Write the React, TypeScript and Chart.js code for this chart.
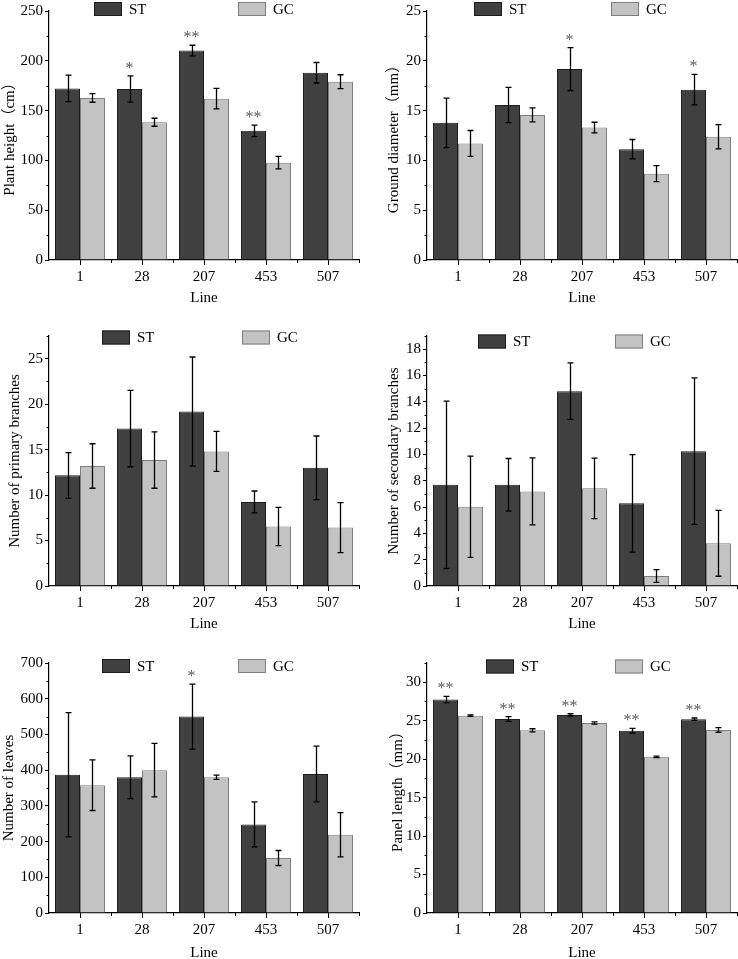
import React, { useEffect, useRef } from "react";
import { Chart, registerables } from "chart.js";

Chart.register(...registerables);

// ---------- data ----------
const lines = ["1", "28", "207", "453", "507"];
const seriesNames = ["ST", "GC"];

const heightST = [172.3, 171.7, 210.3, 129.7, 188.0];
const heightSTErr = [13.3, 13.2, 5.3, 5.8, 10.3];
const heightGC = [162.7, 138.3, 162.0, 97.7, 179.0];
const heightGCErr = [4.3, 4.0, 10.3, 6.3, 7.0];
const heightSig = ["", "*", "**", "**", ""];

const diameterST = [13.77, 15.57, 19.17, 11.13, 17.1];
const diameterSTErr = [2.48, 1.77, 2.15, 0.97, 1.53];
const diameterGC = [11.7, 14.57, 13.3, 8.67, 12.37];
const diameterGCErr = [1.3, 0.7, 0.53, 0.8, 1.22];
const diameterSig = ["", "", "*", "", "*"];

const primaryST = [12.17, 17.32, 19.19, 9.25, 13.0];
const primarySTErr = [2.5, 4.2, 6.0, 1.2, 3.5];
const primaryGC = [13.2, 13.85, 14.8, 6.54, 6.43];
const primaryGCErr = [2.45, 3.1, 2.2, 2.1, 2.75];
const primarySig = ["", "", "", "", ""];

const secondaryST = [7.69, 7.69, 14.81, 6.28, 10.25];
const secondarySTErr = [6.36, 2.0, 2.15, 3.7, 5.57];
const secondaryGC = [6.02, 7.19, 7.42, 0.76, 3.24];
const secondaryGCErr = [3.85, 2.55, 2.3, 0.48, 2.5];
const secondarySig = ["", "", "", "", ""];

const leavesST = [387, 380, 550, 248, 389];
const leavesSTErr = [174, 60, 91, 63, 78];
const leavesGC = [358, 400, 380, 154, 219];
const leavesGCErr = [71, 75, 6, 21, 62];
const leavesSig = ["", "", "*", "", ""];

const panicleST = [27.75, 25.22, 25.75, 23.7, 25.2];
const panicleSTErr = [0.4, 0.3, 0.15, 0.3, 0.15];
const panicleGC = [25.65, 23.75, 24.7, 20.3, 23.8];
const panicleGCErr = [0.1, 0.2, 0.15, 0.1, 0.3];
const panicleSig = ["**", "**", "**", "**", "**"];

// ---------- panel layout ----------
const FONT = '"Liberation Serif", "Times New Roman", serif';
const TITLE_FONT = '"Liberation Serif", "Noto Sans CJK SC", serif';

type Panel = {
  left: number; top: number; width: number; height: number;
  padTop: number; padRight: number; axisX: number; axisY: number;
  title: string; titlePad: number; max: number; step: number;
  st: number[]; stErr: number[]; gc: number[]; gcErr: number[]; sig: string[];
  legendX: number[]; legendDy: number;
};

const panels: Panel[] = [
  { left: 0, top: 0, width: 369, height: 309, padTop: 10, padRight: 10, axisX: 49, axisY: 260,
    title: "Plant height（cm）", titlePad: 1, max: 250, step: 50,
    st: heightST, stErr: heightSTErr, gc: heightGC, gcErr: heightGCErr, sig: heightSig,
    legendX: [45, 189], legendDy: -2 },
  { left: 369, top: 0, width: 369, height: 309, padTop: 10, padRight: 1, axisX: 427, axisY: 260,
    title: "Ground diameter（mm）", titlePad: 16, max: 25, step: 5,
    st: diameterST, stErr: diameterSTErr, gc: diameterGC, gcErr: diameterGCErr, sig: diameterSig,
    legendX: [47, 184], legendDy: -2 },
  { left: 0, top: 310, width: 369, height: 325, padTop: 26, padRight: 10, axisX: 49, axisY: 586,
    title: "Number of primary branches", titlePad: 6, max: 27.5, step: 5,
    st: primaryST, stErr: primarySTErr, gc: primaryGC, gcErr: primaryGCErr, sig: primarySig,
    legendX: [53, 193], legendDy: 1.5 },
  { left: 369, top: 310, width: 369, height: 325, padTop: 26, padRight: 1, axisX: 427, axisY: 586,
    title: "Number of secondary branches", titlePad: 16, max: 19, step: 2,
    st: secondaryST, stErr: secondarySTErr, gc: secondaryGC, gcErr: secondaryGCErr, sig: secondarySig,
    legendX: [51, 188], legendDy: 5.5 },
  { left: 0, top: 630, width: 369, height: 334, padTop: 33, padRight: 10, axisX: 49, axisY: 913,
    title: "Number of leaves", titlePad: 0, max: 700, step: 100,
    st: leavesST, stErr: leavesSTErr, gc: leavesGC, gcErr: leavesGCErr, sig: leavesSig,
    legendX: [53, 189], legendDy: 3 },
  { left: 369, top: 630, width: 369, height: 334, padTop: 33, padRight: 1, axisX: 427, axisY: 913,
    title: "Panel length（mm）", titlePad: 20, max: 32.5, step: 5,
    st: panicleST, stErr: panicleSTErr, gc: panicleGC, gcErr: panicleGCErr, sig: panicleSig,
    legendX: [59, 188], legendDy: 3.5 },
];

const ST_FILL = "#404040";
const ST_BORDER = "#1c1c1c";
const GC_FILL = "#c3c3c3";
const GC_BORDER = "#7e7e7e";

function makePlugins(p: Panel) {
  const errorBars = {
    id: "errorBars",
    afterDatasetsDraw(chart: any) {
      const ctx = chart.ctx;
      const y = chart.scales.y;
      ctx.save();
      chart.data.datasets.forEach((ds: any, i: number) => {
        const meta = chart.getDatasetMeta(i);
        meta.data.forEach((bar: any, j: number) => {
          const v = ds.data[j];
          const e = ds.errors[j];
          const yt = y.getPixelForValue(v + e);
          const yb = y.getPixelForValue(v - e);
          const x = Math.round(bar.x) + 0.5;
          ctx.strokeStyle = "#000";
          ctx.lineWidth = 1.3;
          ctx.beginPath();
          ctx.moveTo(x, yt);
          ctx.lineTo(x, yb);
          ctx.moveTo(x - 3, yt);
          ctx.lineTo(x + 3, yt);
          ctx.moveTo(x - 3, yb);
          ctx.lineTo(x + 3, yb);
          ctx.stroke();
          const s = ds.sig ? ds.sig[j] : "";
          if (s) {
            ctx.fillStyle = "#5a5a5a";
            ctx.font = `16px ${FONT}`;
            ctx.textAlign = "center";
            ctx.textBaseline = "alphabetic";
            ctx.fillText(s, bar.x, yt - 3);
          }
        });
      });
      ctx.restore();
    },
  };
  const extras = {
    id: "extras",
    afterDraw(chart: any) {
      const ctx = chart.ctx;
      const area = chart.chartArea;
      const y = chart.scales.y;
      const x = chart.scales.x;
      ctx.save();
      // minor ticks
      ctx.strokeStyle = "#000";
      ctx.lineWidth = 1;
      ctx.beginPath();
      for (let v = p.step / 2; v <= p.max + 1e-9; v += p.step) {
        const py = Math.round(y.getPixelForValue(v)) + 0.5;
        ctx.moveTo(area.left - 2.5, py);
        ctx.lineTo(area.left, py);
      }
      for (let i = 0; i < lines.length; i++) {
        const a = x.getPixelForValue(i);
        const b = i < lines.length - 1 ? x.getPixelForValue(i + 1) : a + (a - x.getPixelForValue(i - 1));
        const px = Math.round((a + b) / 2) + 0.5;
        ctx.moveTo(px, area.bottom);
        ctx.lineTo(px, area.bottom + 3);
      }
      ctx.stroke();
      // legend
      chart.data.datasets.forEach((ds: any, i: number) => {
        const bx = area.left + p.legendX[i];
        const cy = area.top + p.legendDy;
        ctx.fillStyle = ds.backgroundColor;
        ctx.fillRect(bx, cy - 7, 28, 14);
        ctx.strokeStyle = ds.borderColor;
        ctx.lineWidth = 1;
        ctx.strokeRect(bx + 0.5, cy - 6.5, 27, 13);
        ctx.fillStyle = "#000";
        ctx.font = `15px ${FONT}`;
        ctx.textAlign = "left";
        ctx.textBaseline = "middle";
        ctx.fillText(ds.label, bx + 35, cy + 1);
      });
      ctx.restore();
    },
  };
  return [errorBars, extras];
}

function PanelChart({ p }: { p: Panel }) {
  const ref = useRef<HTMLCanvasElement | null>(null);
  useEffect(() => {
    if (!ref.current) return;
    const chart = new Chart(ref.current, {
      type: "bar",
      data: {
        labels: lines,
        datasets: [
          { label: seriesNames[0], data: p.st, errors: p.stErr, sig: p.sig,
            backgroundColor: ST_FILL, borderColor: ST_BORDER, borderWidth: 1 } as any,
          { label: seriesNames[1], data: p.gc, errors: p.gcErr, sig: [],
            backgroundColor: GC_FILL, borderColor: GC_BORDER, borderWidth: 1 } as any,
        ],
      },
      options: {
        responsive: false,
        animation: false,
        devicePixelRatio: 1,
        layout: { padding: { top: p.padTop, right: p.padRight, left: 0, bottom: 0 } },
        plugins: { legend: { display: false }, tooltip: { enabled: false } },
        datasets: { bar: { categoryPercentage: 0.806, barPercentage: 1.0 } },
        scales: {
          x: {
            offset: true,
            grid: { display: true, drawOnChartArea: false, offset: false, tickLength: 5, color: "#000", tickWidth: 1 },
            border: { display: true, color: "#000", width: 1.2 },
            ticks: { color: "#000", font: { family: FONT, size: 15 }, padding: 3, maxRotation: 0 },
            title: { display: true, text: "Line", color: "#000", font: { family: FONT, size: 15 }, padding: { top: 0, bottom: 2 } },
            afterFit: (s: any) => { s.height = p.height - (p.axisY - p.top); },
          },
          y: {
            min: 0,
            max: p.max,
            grid: { display: true, drawOnChartArea: false, tickLength: 4, color: "#000", tickWidth: 1 },
            border: { display: true, color: "#000", width: 1.2 },
            ticks: { stepSize: p.step, includeBounds: false, color: "#000", font: { family: FONT, size: 15 }, padding: 2 },
            afterBuildTicks: (s: any) => {
              s.ticks = s.ticks.filter((t: any) => Math.abs(t.value / p.step - Math.round(t.value / p.step)) < 1e-6);
            },
            title: { display: true, text: p.title, color: "#000", font: { family: TITLE_FONT, size: 15 }, padding: { top: p.titlePad, bottom: 0 } },
            afterFit: (s: any) => { s.width = p.axisX - p.left; },
          },
        },
      } as any,
      plugins: makePlugins(p) as any,
    });
    return () => chart.destroy();
  }, [p]);
  return (
    <canvas
      ref={ref}
      width={p.width}
      height={p.height}
      style={{ position: "absolute", left: p.left, top: p.top, width: p.width, height: p.height }}
    />
  );
}

export default function App() {
  return (
    <div style={{ position: "absolute", left: 0, top: 0, width: 738, height: 959, overflow: "hidden", background: "#fff" }}>
      {panels.map((p, i) => (
        <PanelChart key={i} p={p} />
      ))}
    </div>
  );
}
